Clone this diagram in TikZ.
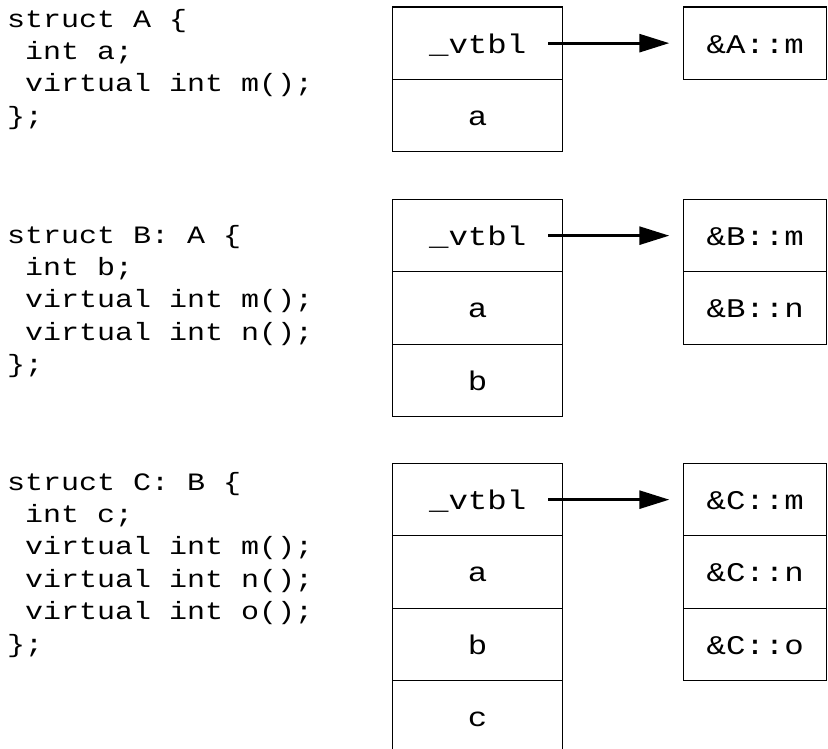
\documentclass[tikz,border=0pt]{standalone}
\usepackage{fontspec}
\usetikzlibrary{positioning,arrows.meta}
\newfontfamily\codefont[FakeStretch=1.2]{Liberation Mono}
\tikzset{
  code/.style={anchor=base west, inner sep=0pt, font=\codefont\fontsize{25}{32}\selectfont},
  cell/.style={draw, line width=1.2pt, outer sep=0pt, inner sep=0pt,
    minimum width=170pt, minimum height=72.3pt, text height=20pt, text depth=0pt,
    font=\codefont\fontsize{27}{32}\selectfont},
  slot/.style={cell, minimum width=143pt},
  ptr/.style={line width=2.8pt, -{Triangle[length=30pt,width=18pt]},
    shorten >=14.4pt, shorten <=-14.7pt}
}
\begin{document}
\begin{tikzpicture}[x=1pt, y=-1pt]
\useasboundingbox (0,0) rectangle (828,748);
\clip (0,0) rectangle (828,748);

% struct A
\node[code] (codeA1) at ( 7.0,  27.0) {struct A \{};
\node[code] (codeA2) at (25.0,  59.4) {int a;};
\node[code] (codeA3) at (25.0,  91.8) {virtual int m();};
\node[code] (codeA4) at ( 7.0, 124.2) {\};};

\node[cell] (vA0) at (477.7, 43.15) {\_vtbl};
\node[cell, below=0pt of vA0] (vA1) {a};
\node[slot, right=121pt of vA0] (tA0) {\&A::m};
\draw[ptr] (vA0.east) -- (tA0.west);

% struct B
\node[code] (codeB1) at ( 7.0, 243.0) {struct B: A \{};
\node[code] (codeB2) at (25.0, 275.4) {int b;};
\node[code] (codeB3) at (25.0, 307.8) {virtual int m();};
\node[code] (codeB4) at (25.0, 340.2) {virtual int n();};
\node[code] (codeB5) at ( 7.0, 372.6) {\};};

\node[cell] (vB0) at (477.7, 235.65) {\_vtbl};
\node[cell, below=0pt of vB0] (vB1) {a};
\node[cell, below=0pt of vB1] (vB2) {b};
\node[slot, right=121pt of vB0] (tB0) {\&B::m};
\node[slot, below=0pt of tB0] (tB1) {\&B::n};
\draw[ptr] (vB0.east) -- (tB0.west);

% struct C
\node[code] (codeC1) at ( 7.0, 490.0) {struct C: B \{};
\node[code] (codeC2) at (25.0, 522.4) {int c;};
\node[code] (codeC3) at (25.0, 554.8) {virtual int m();};
\node[code] (codeC4) at (25.0, 587.2) {virtual int n();};
\node[code] (codeC5) at (25.0, 619.6) {virtual int o();};
\node[code] (codeC6) at ( 7.0, 652.0) {\};};

\node[cell] (vC0) at (477.7, 499.65) {\_vtbl};
\node[cell, below=0pt of vC0] (vC1) {a};
\node[cell, below=0pt of vC1] (vC2) {b};
\node[cell, below=0pt of vC2] (vC3) {c};
\node[slot, right=121pt of vC0] (tC0) {\&C::m};
\node[slot, below=0pt of tC0] (tC1) {\&C::n};
\node[slot, below=0pt of tC1] (tC2) {\&C::o};
\draw[ptr] (vC0.east) -- (tC0.west);
\end{tikzpicture}
\end{document}
